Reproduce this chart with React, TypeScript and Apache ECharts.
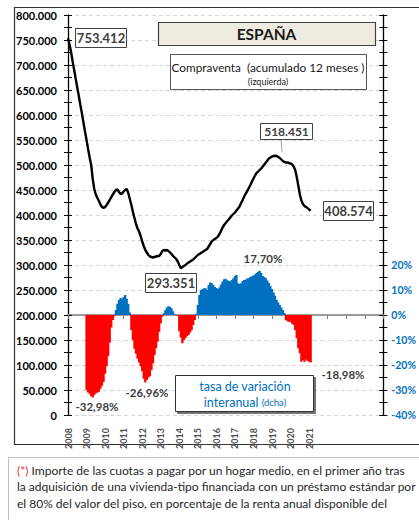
import React, { useEffect, useRef } from 'react';
import * as echarts from 'echarts';

// Months start in January 2008 (index 0)
const startYear = 2008;
const yearLabels = ['2008', '2009', '2010', '2011', '2012', '2013', '2014', '2015', '2016', '2017', '2018', '2019', '2020', '2021'];

// Compraventa de viviendas, acumulado 12 meses (miles)
const compraventaMiles = [
  753.412, 741, 726, 707, 690, 672, 655, 638, 620, 603, 585, 567,
  550, 532, 515, 500, 472, 452, 441, 434, 428, 421, 416, 414,
  416, 420, 425, 430, 436, 441, 446, 450, 451, 446, 442, 443,
  447, 450, 452, 444, 432, 420, 406, 394, 382, 373, 367, 358,
  347, 338, 330, 325, 320, 317, 316, 315, 316, 317, 318, 318,
  322, 328, 330, 329, 330, 328, 325, 322, 318, 315, 312, 307,
  300, 293.351, 296, 298, 300, 303, 305, 307, 309, 311, 314, 317,
  320, 322, 324, 326, 328, 330, 332, 337, 342, 347, 350, 352,
  354, 357, 362, 368, 375, 380, 384, 388, 391, 395, 399, 402,
  405, 409, 413, 417, 424, 430, 437, 443, 448, 454, 460, 467,
  473, 479, 484, 487, 490, 493, 497, 501, 505, 509, 513, 515,
  517, 518, 518.451, 518, 516, 514, 511, 508, 506, 505, 505, 504,
  503, 501, 497, 490, 476, 459, 441, 429, 422, 418, 416, 414,
  411, 408.574,
];

// Tasa de variación interanual (%), first value = January 2009 (month index 12)
const tasaInicioMes = 12;
const tasaVariacion = [
  -30, -31, -31.5, -32.5, -32.98, -32, -31.3, -31, -30.7, -29.5, -28.3, -26.8,
  -23.5, -20.5, -16.5, -11, -5, -2, -0.5, 2, 4.5, 6, 6.8, 6.5,
  7.2, 8, 6.5, 4.5, 1, -6, -10, -13.5, -15.5, -17.5, -19, -20.5,
  -22.5, -25.5, -26.96, -26, -25, -24.5, -22, -19.3, -16, -13.3, -10.7, -6.7,
  -3.3, -0.7, 0.7, 2, 3, 3.5, 3.3, 2.7, 1.5, 0.4, 0, -0.3,
  -6.5, -9, -11.3, -10, -9.3, -8.5, -8, -7, -6, -4, -2, 0.5,
  4, 8, 10, 10.3, 10.7, 10.7, 10, 12, 13, 12.7, 12, 11.2,
  10.8, 10.4, 11, 12.2, 13.4, 14.3, 14.5, 13.9, 13.6, 13.4, 14, 14.7,
  15.6, 16, 12.7, 12.4, 12.7, 13.6, 14, 14.2, 14.6, 14.7, 15.2, 15.5,
  15.8, 16.2, 16.8, 17.3, 17.7, 16.8, 15.6, 15.2, 14.7, 13.8, 12.8, 11.5,
  10.4, 9, 7.7, 6, 5, 4, 3, 2, 0.8, -2, -2.5, -2.7,
  -2.7, -3.5, -4, -6, -9.3, -13.3, -15.3, -18.7, -18, -18.7, -17.7, -18.3,
  -18.7, -18.98,
];

const FONT = 'Lato';
const BLUE = '#0070c0';
const RED = '#ff0000';
const DARK = '#404040';

function thousands(v: number): string {
  return String(v).replace(/\B(?=(\d{3})+(?!\d))/g, '.');
}

function box(x: number, y: number, w: number, h: number, extra: any = {}) {
  return {
    type: 'rect',
    silent: true,
    shape: { x: x + 0.5, y: y + 0.5, width: w, height: h },
    style: { fill: '#fff', stroke: '#404040', lineWidth: 1, ...extra },
    z: 100,
  };
}

function text(x: number, y: number, t: string, size: number, bold: boolean, color: string, align = 'center') {
  return {
    type: 'text',
    silent: true,
    x,
    y,
    z: 101,
    style: {
      text: t,
      fill: color,
      fontSize: size,
      fontWeight: bold ? 'bold' : 'normal',
      fontFamily: FONT,
      align,
      textAlign: align,
      verticalAlign: 'middle',
      textVerticalAlign: 'middle',
    },
  };
}

export default function App() {
  const ref = useRef<HTMLDivElement>(null);

  useEffect(() => {
    const chart = echarts.init(ref.current!, null, { renderer: 'svg' });

    const lineData = compraventaMiles.map((v, i) => [startYear + i / 12, Math.round(v * 1000)]);
    const barData = tasaVariacion.map((v, i) => [startYear + (tasaInicioMes + i) / 12, v]);

    const leftMin = 0, leftMax = 800000, leftInt = 50000;
    const rightMin = -40, rightMax = 120, rightInt = 10;
    const xMin = 2008, xMax = 2025;

    const tickStyle = { color: '#000', width: 1 };

    const option: any = {
      animation: false,
      textStyle: { fontFamily: FONT },
      grid: { left: 68, right: 29, top: 15, bottom: 105, containLabel: false },
      xAxis: [
        {
          type: 'value',
          min: xMin,
          max: xMax,
          interval: 1,
          position: 'bottom',
          axisLine: { show: false, onZero: false },
          axisTick: { show: false },
          splitLine: { show: false },
          axisLabel: {
            rotate: 90,
            fontSize: 9,
            fontWeight: 'bold',
            color: '#505050',
            margin: 13,
            fontFamily: FONT,
            formatter: (v: number) => (yearLabels.includes(String(v)) ? String(v) : ''),
          },
        },
        {
          type: 'value',
          min: xMin,
          max: xMax,
          interval: 1,
          position: 'bottom',
          axisLine: { show: true, onZero: true, onZeroAxisIndex: 1, lineStyle: { color: '#7f7f7f', width: 1.5 } },
          axisTick: { show: true, length: 4, lineStyle: { color: '#7f7f7f' } },
          axisLabel: { show: false },
          splitLine: { show: false },
        },
      ],
      yAxis: [
        {
          type: 'value',
          position: 'left',
          min: leftMin,
          max: leftMax,
          interval: leftInt,
          axisLine: { show: true, onZero: false, lineStyle: { color: '#000', width: 1.3 } },
          axisTick: { show: true, length: 4, lineStyle: tickStyle },
          minorTick: { show: true, splitNumber: 2, length: 4, lineStyle: tickStyle },
          splitLine: { show: true, lineStyle: { color: '#d4d4d4', type: [4, 3], width: 1 } },
          axisLabel: {
            fontSize: 11,
            fontWeight: 'bold',
            color: '#000',
            margin: 11,
            fontFamily: FONT,
            formatter: (v: number) => thousands(v),
          },
        },
        {
          type: 'value',
          position: 'right',
          min: rightMin,
          max: rightMax,
          interval: rightInt,
          axisLine: { show: true, onZero: false, lineStyle: { color: '#000', width: 1.3 } },
          axisTick: { show: true, length: 4, lineStyle: tickStyle },
          minorTick: { show: true, splitNumber: 2, length: 4, lineStyle: tickStyle },
          splitLine: { show: false },
          axisLabel: {
            fontSize: 10.5,
            fontWeight: 'bold',
            color: BLUE,
            margin: 8,
            fontFamily: FONT,
            formatter: (v: number) => (v <= 20 ? v + '%' : ''),
          },
        },
        {
          type: 'value',
          position: 'left',
          min: leftMin,
          max: leftMax,
          interval: leftInt,
          axisLine: { show: false, onZero: false },
          axisTick: { show: true, inside: true, length: 4, lineStyle: tickStyle },
          minorTick: { show: true, splitNumber: 2, length: 4, lineStyle: tickStyle },
          splitLine: { show: false },
          axisLabel: { show: false },
        },
        {
          type: 'value',
          position: 'right',
          min: rightMin,
          max: rightMax,
          interval: rightInt,
          axisLine: { show: false, onZero: false },
          axisTick: { show: true, inside: true, length: 4, lineStyle: tickStyle },
          minorTick: { show: true, splitNumber: 2, length: 4, lineStyle: tickStyle },
          splitLine: { show: false },
          axisLabel: { show: false },
        },
      ],
      series: [
        {
          type: 'bar',
          name: 'tasa',
          xAxisIndex: 0,
          yAxisIndex: 1,
          data: barData,
          barWidth: 2.3,
          itemStyle: {
            color: (p: any) => (p.value[1] >= 0 ? BLUE : RED),
          },
          z: 2,
        },
        {
          type: 'line',
          name: 'compraventa',
          xAxisIndex: 0,
          yAxisIndex: 0,
          data: lineData,
          showSymbol: false,
          symbol: 'none',
          lineStyle: { color: '#000', width: 2.4 },
          z: 5,
        },
      ],
      graphic: [
        // outer frame
        {
          type: 'rect',
          silent: true,
          shape: { x: 14.5, y: 7.5, width: 420, height: 437 },
          style: { fill: 'none', stroke: '#333', lineWidth: 1.2 },
          z: 0,
        },
        // title
        box(158, 22, 217, 23, { fill: '#eeece1', stroke: '#404040', lineWidth: 1.2 }),
        text(266.5, 34, 'ESPAÑA', 15.5, true, '#1a1a1a'),
        box(170, 54, 196, 35, { stroke: '#555' }),
        text(268, 67.5, 'Compraventa  (acumulado 12 meses )', 11.8, false, '#1a1a1a'),
        text(268, 81, '(izquierda)', 9, false, '#1a1a1a'),
        // value boxes
        box(75, 28, 51, 19),
        text(101, 38, '753.412', 13, true, DARK),
        box(145, 273, 51, 19),
        text(171, 283, '293.351', 13, true, DARK),
        {
          type: 'line',
          silent: true,
          shape: { x1: 281, y1: 140, x2: 282, y2: 152 },
          style: { stroke: '#a0a0a0', lineWidth: 1 },
          z: 99,
        },
        box(260, 123, 52, 16),
        text(286.5, 131.5, '518.451', 12, true, DARK),
        box(323, 201, 50, 19),
        text(348.5, 211, '408.574', 13, true, DARK),
        // percentage labels
        text(263, 258, '17,70%', 11.5, true, DARK),
        text(97, 406, '-32,98%', 11.5, true, DARK),
        text(147, 392, '-26,96%', 11.5, true, DARK),
        text(343, 374, '-18,98%', 11.5, true, DARK),
        // right-axis legend box
        box(175, 375, 138, 36, { stroke: '#333', shadowColor: 'rgba(0,0,0,0.55)', shadowOffsetX: 2, shadowOffsetY: 2, shadowBlur: 0 }),
        text(245, 386, 'tasa de variación', 12.5, false, BLUE),
        {
          type: 'text',
          silent: true,
          x: 245,
          y: 402,
          z: 101,
          style: {
            text: '{a|interanual }{b|(dcha)}',
            align: 'center',
            textAlign: 'center',
            verticalAlign: 'middle',
            textVerticalAlign: 'middle',
            fill: BLUE,
            rich: {
              a: { fontSize: 12.5, fontFamily: FONT, fill: BLUE, color: BLUE },
              b: { fontSize: 9.5, fontFamily: FONT, fill: BLUE, color: BLUE },
            },
          },
        },
        // footnote
        {
          type: 'rect',
          silent: true,
          shape: { x: 8.5, y: 457.5, width: 420, height: 80 },
          style: { fill: '#fff', stroke: '#c0c0c0', lineWidth: 1 },
          z: 0,
        },
        {
          type: 'text',
          silent: true,
          x: 17,
          y: 470,
          z: 101,
          style: {
            text: '{r|(*)}{t| Importe de las cuotas a pagar por un hogar medio, en el primer año tras}',
            align: 'left',
            textAlign: 'left',
            verticalAlign: 'middle',
            textVerticalAlign: 'middle',
            rich: {
              r: { fontSize: 12, fontFamily: FONT, fill: '#e8323c', color: '#e8323c' },
              t: { fontSize: 12, fontFamily: FONT, fill: '#262626', color: '#262626' },
            },
          },
        },
        text(17, 486.5, 'la adquisición de una vivienda-tipo financiada con un préstamo estándar por', 12, false, '#262626', 'left'),
        text(17, 503, 'el 80% del valor del piso, en porcentaje de la renta anual disponible del', 12, false, '#262626', 'left'),
      ],
    };

    chart.setOption(option);
    return () => chart.dispose();
  }, []);

  return <div ref={ref} style={{ position: 'absolute', left: 0, top: 0, width: 419, height: 520 }} />;
}
